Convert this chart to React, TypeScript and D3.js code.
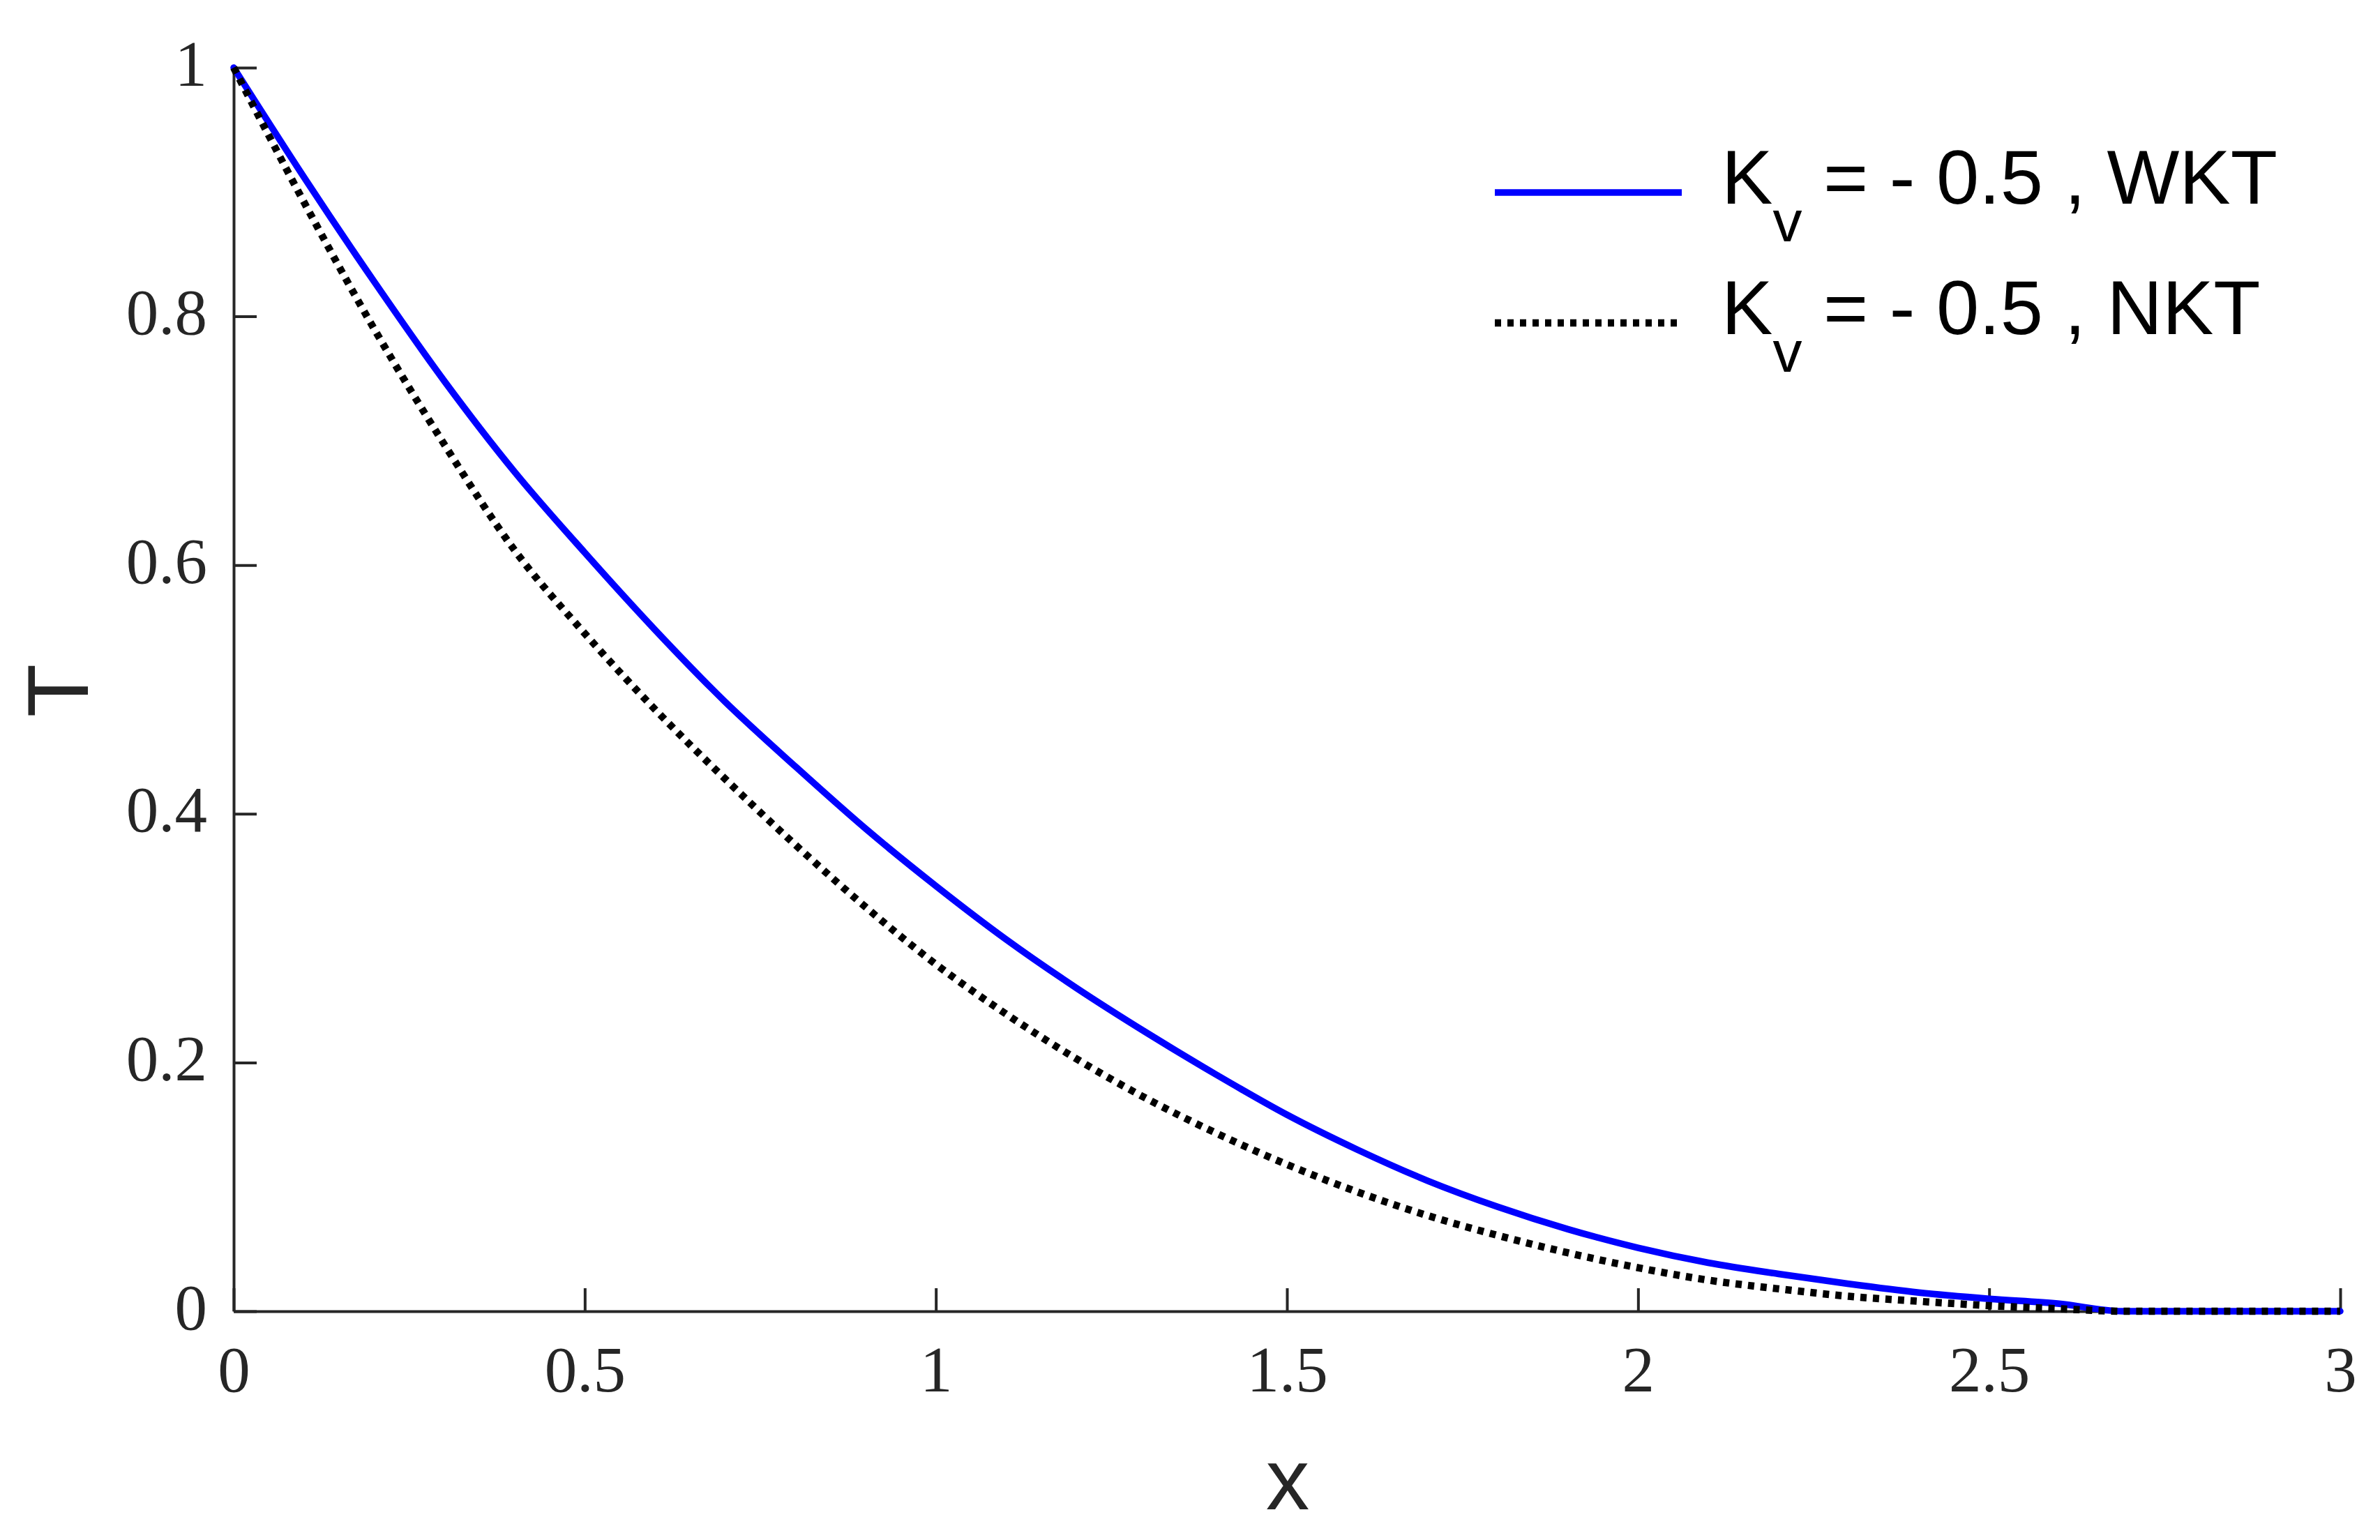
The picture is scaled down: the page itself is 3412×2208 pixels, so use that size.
import React, { useEffect, useRef } from 'react';
import * as d3 from 'd3';

const W = 3412;
const H = 2208;

const xs = [0, 0.1, 0.2, 0.3, 0.4, 0.5, 0.6, 0.7, 0.8, 0.9, 1.0, 1.1, 1.2, 1.3, 1.4, 1.5, 1.6, 1.7, 1.8, 1.9, 2.0, 2.1, 2.2, 2.3, 2.4, 2.5, 2.6, 2.69, 3.0];
const wkt = [1.0, 0.912, 0.828, 0.748, 0.675, 0.61, 0.548, 0.49, 0.438, 0.388, 0.342, 0.299, 0.26, 0.224, 0.19, 0.158, 0.13, 0.105, 0.084, 0.066, 0.051, 0.039, 0.03, 0.022, 0.015, 0.01, 0.006, 0, 0];
const nkt = [1.0, 0.892, 0.79, 0.697, 0.612, 0.545, 0.484, 0.428, 0.375, 0.325, 0.279, 0.239, 0.203, 0.171, 0.143, 0.118, 0.096, 0.077, 0.061, 0.047, 0.035, 0.025, 0.018, 0.012, 0.008, 0.0045, 0.002, 0, 0];

const xTicks = [0, 0.5, 1, 1.5, 2, 2.5, 3];
const yTicks = [0, 0.2, 0.4, 0.6, 0.8, 1];
const legendLabels = ['WKT', 'NKT'];

const axisColor = '#262626';
const serif = '"Liberation Serif", "Times New Roman", serif';
const sans = '"Liberation Sans", Arial, sans-serif';

const renderChart = (svgEl: SVGSVGElement) => {
  const svg = d3.select(svgEl);
  svg.selectAll('*').remove();

  const x = d3.scaleLinear().domain([0, 3]).range([335, 3355]);
  const y = d3.scaleLinear().domain([0, 1]).range([1880, 97]);

  const xAxis = svg.append('g')
    .attr('transform', `translate(0,${y(0)})`)
    .call(d3.axisBottom(x).tickValues(xTicks).tickSize(-33).tickSizeOuter(0).tickFormat(d => String(d)));

  const yAxis = svg.append('g')
    .attr('transform', `translate(${x(0)},0)`)
    .call(d3.axisLeft(y).tickValues(yTicks).tickSize(-33).tickSizeOuter(0).tickFormat(d => String(d)));

  [xAxis, yAxis].forEach(g => {
    g.select('.domain').attr('stroke', axisColor).attr('stroke-width', 4);
    g.selectAll('.tick line').attr('stroke', axisColor).attr('stroke-width', 4);
    g.selectAll('.tick text')
      .attr('fill', axisColor)
      .style('font-family', serif)
      .style('font-size', '93px');
  });
  xAxis.selectAll('.tick text').attr('y', 115).attr('dy', null);
  yAxis.selectAll('.tick text').attr('x', -38).attr('y', 25).attr('dy', null);

  // axis titles
  svg.append('text')
    .attr('x', 1846).attr('y', 2164)
    .attr('text-anchor', 'middle')
    .attr('fill', axisColor)
    .style('font-family', sans).style('font-size', '125px')
    .text('x');
  svg.append('text')
    .attr('transform', 'translate(126,990) rotate(-90)')
    .attr('text-anchor', 'middle')
    .attr('fill', axisColor)
    .style('font-family', sans).style('font-size', '125px')
    .text('T');

  const line = d3.line<number>()
    .x((d, i) => x(xs[i]))
    .y(d => y(d))
    .curve(d3.curveMonotoneX);

  svg.append('path')
    .attr('d', line(wkt))
    .attr('fill', 'none')
    .attr('stroke', '#0000ff')
    .attr('stroke-width', 9.5)
    .attr('stroke-linecap', 'round');

  svg.append('path')
    .attr('d', line(nkt))
    .attr('fill', 'none')
    .attr('stroke', '#000')
    .attr('stroke-width', 10.5)
    .attr('stroke-dasharray', '9 9');

  // legend
  const legend = svg.append('g');
  legendLabels.forEach((lab, i) => {
    const ly = 276 + i * 187;
    legend.append('line')
      .attr('x1', 2143).attr('x2', 2411)
      .attr('y1', ly).attr('y2', ly)
      .attr('stroke', i === 0 ? '#0000ff' : '#000')
      .attr('stroke-width', i === 0 ? 9.5 : 10.5)
      .attr('stroke-dasharray', i === 0 ? null : '9 9');
    const t = legend.append('text')
      .attr('x', 2468).attr('y', ly + 16)
      .attr('fill', '#000')
      .style('font-family', sans).style('font-size', '110px');
    t.append('tspan').text('K');
    t.append('tspan').attr('dy', 54).style('font-size', '84px').text('v');
    t.append('tspan').attr('dy', -54).text(` = - 0.5 , ${lab}`).attr('xml:space', 'preserve');
  });
};

export default function App() {
  const ref = useRef<SVGSVGElement>(null);
  useEffect(() => {
    if (ref.current) renderChart(ref.current);
  }, []);
  return (
    <svg
      ref={ref}
      width={W}
      height={H}
      style={{ position: 'absolute', left: 0, top: 0, background: '#fff' }}
    />
  );
}
